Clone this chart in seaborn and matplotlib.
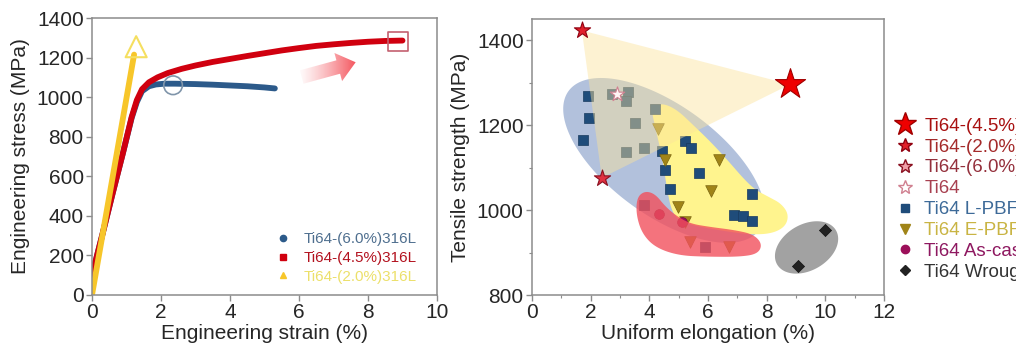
import numpy as np
import matplotlib.pyplot as plt
import seaborn as sns
from matplotlib.lines import Line2D
from matplotlib.patches import FancyArrowPatch
from matplotlib.ticker import MultipleLocator

# ---------------- left panel: stress-strain curves ----------------
strain_60 = [0, 0.3, 0.6, 0.9, 1.15, 1.3, 1.45, 1.65, 1.85, 2.1, 2.4, 3.0, 3.5, 4.0, 4.5, 5.0, 5.3]
stress_60 = [100, 305, 515, 720, 895, 975, 1030, 1055, 1064, 1068, 1068, 1066, 1063, 1059, 1055, 1049, 1044]

strain_45 = [0, 0.3, 0.6, 0.9, 1.15, 1.3, 1.45, 1.65, 1.9, 2.2, 2.6, 3.0, 3.5, 4.0, 4.5, 5.0,
             5.5, 6.0, 6.5, 7.0, 7.5, 8.0, 8.5, 9.0]
stress_45 = [100, 305, 515, 720, 900, 985, 1040, 1075, 1100, 1122, 1143, 1160, 1178, 1193, 1208, 1222,
             1236, 1248, 1259, 1267, 1274, 1280, 1284, 1286]

strain_20 = [0, 1.22]
stress_20 = [0, 1215]

# open end markers (fracture / UTS points)
end_x = [2.35, 8.87, 1.28]
end_y = [1060, 1283, 1255]

curve_labels = ['Ti64-(6.0%)316L', 'Ti64-(4.5%)316L', 'Ti64-(2.0%)316L']
curve_colors = ['#2c5a8a', '#d0000f', '#f7c62a']
curve_text_colors = ['#4f6f8f', '#b3121f', '#ece06a']

# arrow (start, end) in data units
arrow_start = (6.0, 1098)
arrow_end = (7.72, 1180)

# ---------------- right panel: strength vs elongation ----------------
star_labels = ['Ti64-(4.5%)316L', 'Ti64-(2.0%)316L', 'Ti64-(6.0%)316L', 'Ti64']
star_x = [8.8, 1.7, 2.38, 2.89]
star_y = [1296, 1423, 1076, 1273]

lpbf_x = [1.92, 1.95, 1.75, 2.72, 3.28, 3.20, 3.51, 3.20, 3.82, 4.19, 4.42, 4.53, 4.70,
          5.22, 5.41, 5.70, 7.49, 6.90, 7.21, 7.51, 5.90, 3.82]
lpbf_y = [1269, 1217, 1164, 1273, 1277, 1258, 1204, 1136, 1147, 1238, 1139, 1095, 1050,
          1162, 1147, 1087, 1039, 988, 985, 975, 913, 1012]

epbf_x = [4.31, 4.53, 6.39, 6.09, 4.99, 5.22, 5.38, 6.70]
epbf_y = [1191, 1118, 1117, 1044, 1007, 973, 925, 912]

ascast_x = [4.34, 5.12]
ascast_y = [991, 972]

wrought_x = [9.98, 9.06]
wrought_y = [952, 868]

# shaded regions (data units)
yellow_x = [4.05, 4.45, 4.95, 5.5, 6.1, 6.7, 7.2, 7.6, 8.1, 8.5, 8.75, 8.65, 8.2, 7.5, 6.6, 5.6,
            5.0, 4.75, 4.6, 4.45, 4.22]
yellow_y = [1242, 1252, 1236, 1200, 1160, 1115, 1075, 1048, 1030, 1015, 990, 962, 945, 942, 950,
            962, 975, 1000, 1050, 1120, 1190]
red_x = [3.58, 3.85, 4.2, 4.55, 4.95, 5.4, 6.1, 6.9, 7.55, 7.85, 7.7, 7.1, 6.0, 5.0, 4.2, 3.75, 3.55]
red_y = [1030, 1045, 1038, 1008, 985, 968, 960, 953, 943, 920, 897, 890, 890, 893, 912, 945, 990]
# ellipses: centre (data), semi axes (px), angle (deg on screen)
blue_ell = (4.5, 1117, 118, 55, -36)
gray_ell = (9.36, 912, 34, 23, 30)

# ---------------- style ----------------
sns.set_theme(style='white')
plt.rcParams['font.family'] = ['Liberation Sans', 'DejaVu Sans']
plt.rcParams['axes.edgecolor'] = '#8c8c8c'
plt.rcParams['axes.linewidth'] = 1.1

W, H = 1016, 351
fig = plt.figure(figsize=(W / 100, H / 100), dpi=100)
ax1 = fig.add_axes([92 / W, 56 / H, 345 / W, 277 / H])
ax2 = fig.add_axes([532 / W, 56 / H, 352 / W, 276 / H])


def smooth(xs, ys, n=4):
    # chaikin corner cutting on a closed polygon
    p = np.column_stack([xs, ys]).astype(float)
    for _ in range(n):
        q = np.roll(p, -1, axis=0)
        p = np.stack([0.75 * p + 0.25 * q, 0.25 * p + 0.75 * q], axis=1).reshape(-1, 2)
    return p[:, 0], p[:, 1]


# ---------------- left panel ----------------
for sx, sy, c in zip([strain_60, strain_45, strain_20], [stress_60, stress_45, stress_20], curve_colors):
    sns.lineplot(x=sx, y=sy, ax=ax1, color=c, linewidth=4.2, sort=False, zorder=2)

ax1.scatter(end_x[:1], end_y[:1], s=180, marker='o', facecolor='none', edgecolor='#8095aa', lw=1.2, zorder=4)
ax1.scatter(end_x[1:2], end_y[1:2], s=190, marker='s', facecolor='none', edgecolor='#c46070', lw=1.2, zorder=4)
ax1.scatter(end_x[2:], end_y[2:], s=230, marker='^', facecolor='none', edgecolor='#f5df60', lw=1.5, zorder=4)

arrow = FancyArrowPatch(arrow_start, arrow_end, arrowstyle='simple,head_width=2.1,head_length=1.3,tail_width=1.0',
                        mutation_scale=10, facecolor='none', edgecolor='none', lw=0)
ax1.add_patch(arrow)
grad = np.zeros((2, 256, 4))
grad[..., 0], grad[..., 1], grad[..., 2] = 0.95, 0.22, 0.26
grad[..., 3] = np.linspace(0.0, 1.0, 256) ** 1.3
im = ax1.imshow(grad, extent=[5.9, 7.85, 1050, 1240], aspect='auto', interpolation='bilinear', zorder=3)
im.set_clip_path(arrow)

ax1.set_xlim(0, 10)
ax1.set_ylim(0, 1400)
ax1.set_xticks(range(0, 11, 2))
ax1.set_yticks(range(0, 1401, 200))
ax1.set_xlabel('Engineering strain (%)', fontsize=15, labelpad=1)
ax1.set_ylabel('Engineering stress (MPa)', fontsize=15, labelpad=5)

h1 = [Line2D([], [], ls='none', marker=m, ms=4.5, color=c, mec=c)
      for m, c in zip(['o', 's', '^'], curve_colors)]
leg1 = ax1.legend(h1, curve_labels, loc='center left', bbox_to_anchor=(0.515, 0.134), frameon=False,
                  fontsize=11, handlelength=0.8, handletextpad=0.9, labelspacing=0.32, borderpad=0)
for t, c in zip(leg1.get_texts(), curve_text_colors):
    t.set_color(c)

# ---------------- right panel ----------------
sx_px = 352 / 12.0
sy_px = 276 / 650.0


def ellipse(cx, cy, a, b, ang):
    t = np.linspace(0, 2 * np.pi, 240)
    u, v = a * np.cos(t), b * np.sin(t)
    r = np.deg2rad(ang)
    dx = u * np.cos(r) - v * np.sin(r)
    dy = u * np.sin(r) + v * np.cos(r)
    return cx + dx / sx_px, cy + dy / sy_px


ex, ey = ellipse(*blue_ell)
ax2.fill(ex, ey, color='#b2c1dc', lw=0, zorder=1)
gx, gy = ellipse(*gray_ell)
ax2.fill(gx, gy, color='#a2a2a2', lw=0, zorder=1)
yx, yy = smooth(yellow_x, yellow_y)
ax2.fill(yx, yy, color='#fff48e', lw=0, zorder=2)

sns.scatterplot(x=lpbf_x, y=lpbf_y, ax=ax2, marker='s', s=42, color='#1f4c7a', edgecolor='#183a5e',
                linewidth=0.5, zorder=3)
sns.scatterplot(x=epbf_x, y=epbf_y, ax=ax2, marker='v', s=70, color='#a08418', edgecolor='#7a6410',
                linewidth=0.5, zorder=3)
sns.scatterplot(x=ascast_x, y=ascast_y, ax=ax2, marker='o', s=50, color='#9c0f5a', edgecolor='#700a40',
                linewidth=0.5, zorder=3)
sns.scatterplot(x=wrought_x, y=wrought_y, ax=ax2, marker='D', s=38, color='#222222', edgecolor='#111111',
                linewidth=0.5, zorder=6)

rx, ry = smooth(red_x, red_y)
ax2.fill(rx, ry, color='#f2505c', alpha=0.8, lw=0, zorder=4)
ax2.fill(star_x[:3], star_y[:3], color='#fbe39c', alpha=0.45, lw=0, zorder=5)

ax2.scatter(star_x[:1], star_y[:1], s=520, marker='*', color='#ee0000', edgecolor='#a00000', lw=0.8, zorder=7)
ax2.scatter(star_x[1:2], star_y[1:2], s=150, marker='*', color='#e0202a', edgecolor='#900010', lw=0.8, zorder=7)
ax2.scatter(star_x[2:3], star_y[2:3], s=150, marker='*', color='#e03040', edgecolor='#8a1020', lw=0.8, zorder=7)
ax2.scatter(star_x[3:], star_y[3:], s=120, marker='*', color='#fff4f4', edgecolor='#d08090', lw=0.8, zorder=7)

ax2.set_xlim(0, 12)
ax2.set_ylim(800, 1450)
ax2.set_xticks(range(0, 13, 2))
ax2.set_yticks(range(800, 1401, 200))
ax2.xaxis.set_minor_locator(MultipleLocator(1))
ax2.yaxis.set_minor_locator(MultipleLocator(100))
ax2.set_xlabel('Uniform elongation (%)', fontsize=15, labelpad=1)
ax2.set_ylabel('Tensile strength (MPa)', fontsize=15, labelpad=5)

leg_labels = star_labels + ['Ti64 L-PBF', 'Ti64 E-PBF', 'Ti64 As-cast', 'Ti64 Wrought']
leg_text_colors = ['#a81010', '#a42a2a', '#94303c', '#a84050', '#3d6a98', '#c9b443', '#8e1860', '#333333']
h2 = [Line2D([], [], ls='none', marker='*', ms=17, color='#ee0000', mec='#a00000'),
      Line2D([], [], ls='none', marker='*', ms=10, color='#e0202a', mec='#900010'),
      Line2D([], [], ls='none', marker='*', ms=10, color='#f0a0a8', mec='#8a1020'),
      Line2D([], [], ls='none', marker='*', ms=10, color='white', mec='#d08090'),
      Line2D([], [], ls='none', marker='s', ms=5.5, color='#1f4c7a'),
      Line2D([], [], ls='none', marker='v', ms=6.5, color='#a08418'),
      Line2D([], [], ls='none', marker='o', ms=6, color='#9c0f5a'),
      Line2D([], [], ls='none', marker='D', ms=5.5, color='#222222')]
leg2 = ax2.legend(h2, leg_labels, loc='center left', bbox_to_anchor=(1.005, 0.347), frameon=False,
                  fontsize=13.5, handlelength=1.0, handletextpad=0.55, labelspacing=0.2, borderpad=0)
for t, c in zip(leg2.get_texts(), leg_text_colors):
    t.set_color(c)

for ax in (ax1, ax2):
    ax.tick_params(which='major', direction='out', length=4, width=1, color='#8c8c8c',
                   labelsize=15, pad=2, bottom=True, left=True)
    ax.tick_params(which='minor', direction='out', length=2.5, width=0.8, color='#8c8c8c',
                   bottom=True, left=True)
    for sp in ax.spines.values():
        sp.set_visible(True)

fig.savefig('out.png', dpi=100)
